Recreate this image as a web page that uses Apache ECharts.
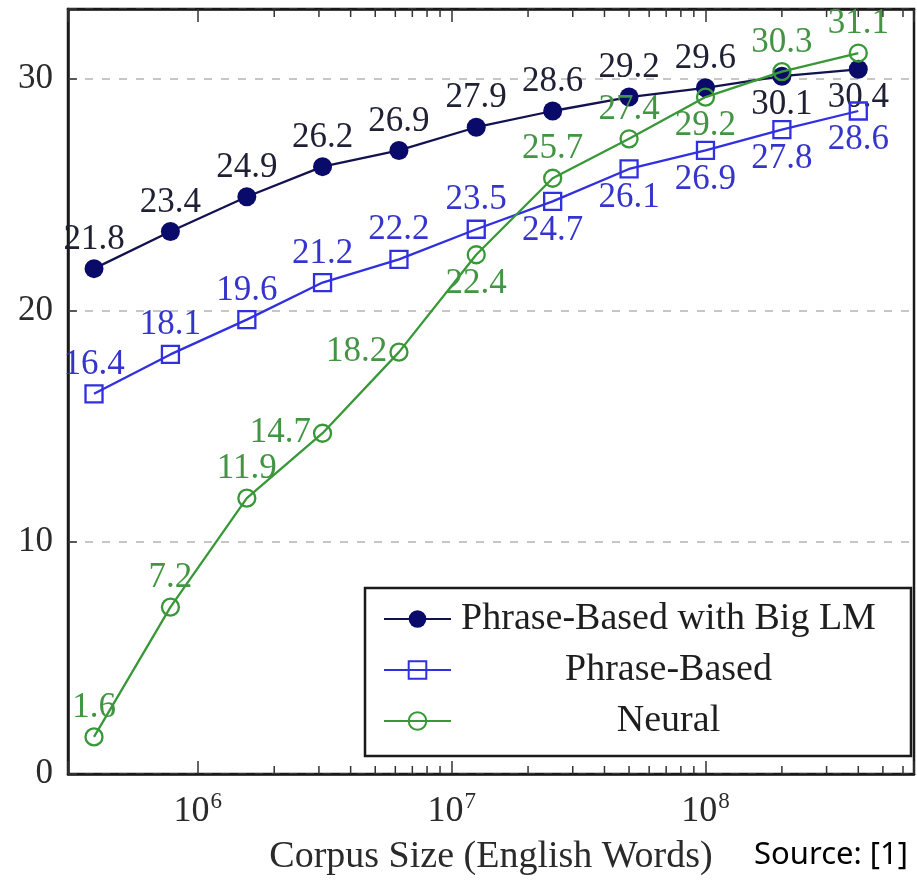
<!DOCTYPE html>
<html>
<head>
<meta charset="utf-8">
<script src="https://cdn.jsdelivr.net/npm/echarts@6/dist/echarts.min.js"></script>
<style>
  html, body { margin: 0; padding: 0; background: #fff; }
  #chart { width: 917px; height: 883px; }
</style>
</head>
<body>
<div id="chart"></div>
<script>
// corpus size (English words), one entry per training run
const corpusSizes = [3.9e5, 7.8e5, 1.56e6, 3.1e6, 6.2e6, 1.25e7, 2.5e7, 5e7, 1e8, 2e8, 4e8];

// BLEU scores
const bigLmScores = [21.8, 23.4, 24.9, 26.2, 26.9, 27.9, 28.6, 29.2, 29.6, 30.1, 30.4];
const phraseScores = [16.4, 18.1, 19.6, 21.2, 22.2, 23.5, 24.7, 26.1, 26.9, 27.8, 28.6];
const neuralScores = [1.6, 7.2, 11.9, 14.7, 18.2, 22.4, 25.7, 27.4, 29.2, 30.3, 31.1];

const seriesNames = ['Phrase-Based with Big LM', 'Phrase-Based', 'Neural'];
const yTicks = [0, 10, 20, 30];
// minor ticks of the log axis (only drawn from 10^6 on, as in the original)
const minorTicks = [2e6, 3e6, 4e6, 5e6, 6e6, 7e6, 8e6, 9e6,
                    2e7, 3e7, 4e7, 5e7, 6e7, 7e7, 8e7, 9e7,
                    2e8, 3e8, 4e8, 5e8, 6e8];

// where each value label sits relative to its point
const bigLmLabelPos = ['top','top','top','top','top','top','top','top','top','bottom','bottom'];
const phraseLabelPos = ['top','top','top','top','top','top','bottom','bottom','bottom','bottom','bottom'];
const neuralLabelPos = ['top','top','top','left','left','bottom','top','top','bottom','top','top'];

const X_MIN = 3.08e5, X_MAX = 6.63e8, Y_MAX = 33;
const SERIF = '"Liberation Serif", "Times New Roman", serif';

function points(values, positions) {
    return values.map((v, i) => ({
        value: [corpusSizes[i], v],
        label: { position: positions[i] }
    }));
}

function lineSeries(name, values, positions, opts) {
    return {
        name: name,
        type: 'line',
        data: points(values, positions),
        symbol: opts.symbol,
        symbolSize: opts.size,
        lineStyle: { color: opts.line, width: 2.3 },
        itemStyle: opts.item,
        label: {
            show: true,
            distance: 2,
            formatter: p => p.value[1].toFixed(1),
            fontFamily: SERIF,
            fontSize: 35,
            color: opts.labelColor
        },
        z: opts.z,
        emphasis: { disabled: true },
        animation: false
    };
}

const chartDom = document.getElementById('chart');
const myChart = echarts.init(chartDom, null, { renderer: 'canvas' });

const xAxisBase = {
    type: 'log',
    logBase: 10,
    min: X_MIN,
    max: X_MAX,
    axisLine: { show: true, lineStyle: { color: '#1a1a1a', width: 2.5 } },
    axisTick: { show: true, inside: true, length: 13, lineStyle: { color: '#333', width: 1.5 } },
    splitLine: { show: false }
};

const option = {
    backgroundColor: '#fff',
    animation: false,
    grid: {
        left: 68, top: 9, width: 860, height: 765,
        show: true, borderColor: '#1a1a1a', borderWidth: 2.5, backgroundColor: 'transparent'
    },
    xAxis: [
        Object.assign({}, xAxisBase, {
            position: 'bottom',
            name: 'Corpus Size (English Words)',
            nameLocation: 'middle',
            nameGap: 64,
            nameTextStyle: { fontFamily: SERIF, fontSize: 38, color: '#2a2a2a' },
            axisLabel: {
                margin: 16,
                formatter: v => {
                    const e = Math.log10(v);
                    if (Math.abs(e - Math.round(e)) > 1e-6) return '';
                    return '{b|10}{s|' + Math.round(e) + '}';
                },
                rich: {
                    b: { fontFamily: SERIF, fontSize: 36, color: '#2a2a2a' },
                    s: { fontFamily: SERIF, fontSize: 23, color: '#2a2a2a', padding: [0, 0, 20, 1] }
                }
            }
        }),
        Object.assign({}, xAxisBase, {
            position: 'top',
            axisLabel: { show: false }
        })
    ],
    yAxis: {
        type: 'value',
        min: 0,
        max: Y_MAX,
        interval: 10,
        axisLine: { show: true, lineStyle: { color: '#1a1a1a', width: 2.5 } },
        axisTick: { show: true, inside: true, length: 9, lineStyle: { color: '#333', width: 1.5 } },
        axisLabel: {
            margin: 15,
            fontFamily: SERIF,
            fontSize: 35,
            color: '#2a2a2a',
            formatter: v => (yTicks.indexOf(v) >= 0 ? String(v) : '')
        },
        splitLine: {
            show: true,
            lineStyle: { color: '#b4b4b4', width: 1.5, type: [8, 9] }
        }
    },
    legend: {
        orient: 'vertical',
        left: 365,
        top: 588,
        data: seriesNames,
        selectedMode: false,
        backgroundColor: '#fff',
        borderColor: '#1a1a1a',
        borderWidth: 2.5,
        borderRadius: 0,
        padding: [12, 30, 16, 18],
        itemWidth: 67,
        itemHeight: 22,
        itemGap: 13,
        formatter: name => '{t|' + name + '}',
        textStyle: {
            fontFamily: SERIF,
            fontSize: 38,
            color: '#1e1e1e',
            rich: {
                t: { width: 425, align: 'center', fontFamily: SERIF, fontSize: 38, color: '#1e1e1e', lineHeight: 36 }
            }
        },
        z: 10
    },
    graphic: [{
        type: 'text',
        right: 9,
        top: 840,
        style: { text: 'Source: [1]', font: '31px "Noto Sans", sans-serif', fill: '#000' }
    }],
    series: [
        lineSeries(seriesNames[0], bigLmScores, bigLmLabelPos, {
            symbol: 'circle', size: 19, line: '#121250',
            item: { color: '#0a0a6a' }, labelColor: '#202034', z: 3
        }),
        lineSeries(seriesNames[1], phraseScores, phraseLabelPos, {
            symbol: 'rect', size: 17, line: '#3030e0',
            item: { color: 'rgba(0,0,0,0)', borderColor: '#3030e0', borderWidth: 2.3 },
            labelColor: '#3535cc', z: 4
        }),
        lineSeries(seriesNames[2], neuralScores, neuralLabelPos, {
            symbol: 'circle', size: 17, line: '#389838',
            item: { color: 'rgba(0,0,0,0)', borderColor: '#389838', borderWidth: 2.3 },
            labelColor: '#439443', z: 5
        }),
        {
            // minor log ticks, bottom and top edge
            type: 'custom',
            name: 'minor',
            data: minorTicks.map(v => [v, 0]),
            clip: false,
            silent: true,
            z: 6,
            renderItem: (params, api) => {
                const v = api.value(0);
                const b = api.coord([v, 0]);
                const t = api.coord([v, Y_MAX]);
                const st = { stroke: '#333', lineWidth: 1.5 };
                return {
                    type: 'group',
                    children: [
                        { type: 'line', shape: { x1: b[0], y1: b[1], x2: b[0], y2: b[1] - 8 }, style: st },
                        { type: 'line', shape: { x1: t[0], y1: t[1], x2: t[0], y2: t[1] + 8 }, style: st }
                    ]
                };
            }
        }
    ]
};

myChart.setOption(option);
new ResizeObserver(() => myChart.resize()).observe(chartDom);
</script>
</body>
</html>
